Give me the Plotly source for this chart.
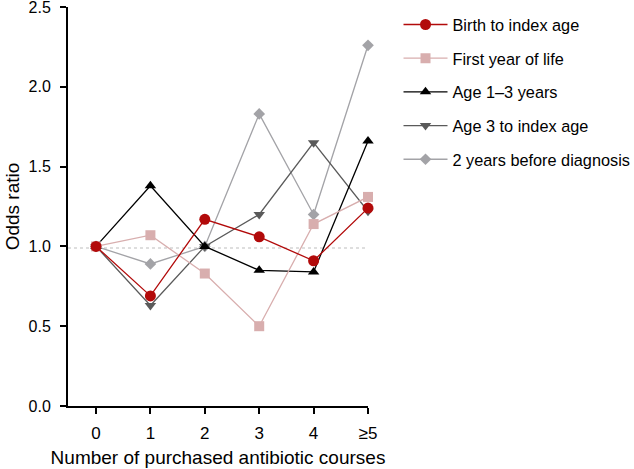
import plotly.graph_objects as go

x_labels = ["0", "1", "2", "3", "4", "≥5"]
x_pos = [0, 1, 2, 3, 4, 5]

birth_to_index = [1.00, 0.69, 1.17, 1.06, 0.91, 1.24]
first_year = [1.00, 1.07, 0.83, 0.50, 1.14, 1.31]
age_1_3 = [1.00, 1.38, 1.00, 0.85, 0.84, 1.66]
age_3_index = [1.00, 0.63, 1.00, 1.20, 1.65, 1.22]
two_years_before = [1.00, 0.89, 1.00, 1.83, 1.20, 2.26]

y_ticks = [0.0, 0.5, 1.0, 1.5, 2.0, 2.5]
ref_value = 0.99

series = [
    ("Birth to index age", birth_to_index, "#b20a0a", "circle", 11),
    ("First year of life", first_year, "#d8aeae", "square", 10),
    ("Age 1–3 years", age_1_3, "#000000", "triangle-up", 10),
    ("Age 3 to index age", age_3_index, "#5a5a5a", "triangle-down", 10),
    ("2 years before diagnosis", two_years_before, "#a3a3a7", "diamond", 9),
]

fig = go.Figure()
fig.add_shape(type="line", xref="paper", x0=0, x1=1, yref="y", y0=ref_value, y1=ref_value,
              line=dict(color="#bdbdbd", width=1, dash="dot"), layer="below")

# add in reverse so that the first series is drawn on top
for i, (name, vals, color, sym, size) in reversed(list(enumerate(series))):
    fig.add_trace(go.Scatter(
        x=x_pos, y=vals, name=name, mode="lines+markers",
        line=dict(color=color, width=1.3),
        marker=dict(symbol=sym, size=size, color=color),
        legendgroup=f"g{i}", legendrank=i + 1,
        cliponaxis=False,
    ))

font_family = "Liberation Sans, Arial, sans-serif"
fig.update_layout(
    width=634, height=469,
    margin=dict(l=68, r=266, t=7, b=63, autoexpand=False),
    plot_bgcolor="white", paper_bgcolor="white",
    font=dict(family=font_family, size=16, color="#000"),
    showlegend=True,
    legend=dict(x=1.1017, y=0.999, xanchor="left", yanchor="top",
                font=dict(size=16.3), tracegroupgap=9.5,
                traceorder="grouped", itemwidth=44),
    xaxis=dict(range=[-0.515, 5.0], tickvals=x_pos, ticktext=x_labels,
               showgrid=False, zeroline=False, showline=True, linecolor="#000", linewidth=2,
               ticks="outside", ticklen=6, tickwidth=2, tickcolor="#000",
               ticklabelstandoff=5,
               title=dict(text="Number of purchased antibiotic courses", standoff=8,
                          font=dict(size=19)),
               tickfont=dict(size=17)),
    yaxis=dict(range=[0, 2.5], tickvals=y_ticks, tickformat=".1f",
               showgrid=False, zeroline=False, showline=True, linecolor="#000", linewidth=2,
               ticks="outside", ticklen=6, tickwidth=2, tickcolor="#000",
               ticklabelstandoff=6, ticklabeloverflow="allow",
               title=dict(text="Odds ratio", standoff=4, font=dict(size=19)),
               tickfont=dict(size=16)),
)

fig.write_html("out.html", config={"displayModeBar": False},
               post_script="document.body.style.margin='0';")
